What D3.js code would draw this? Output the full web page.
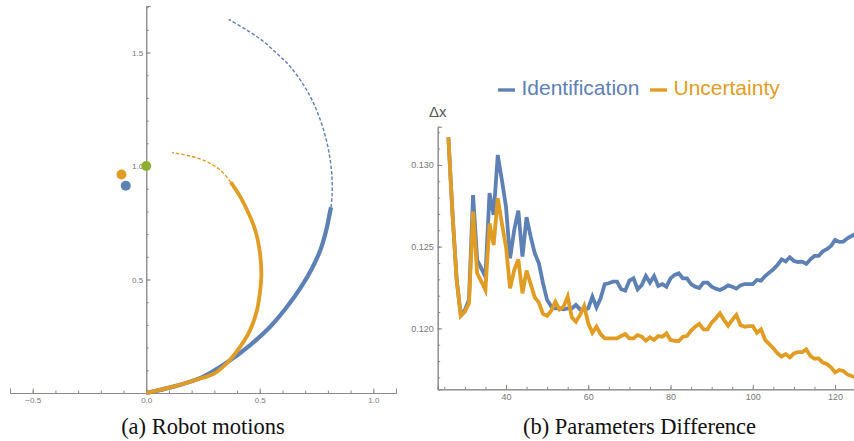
<!DOCTYPE html>
<html>
<head>
<meta charset="utf-8">
<title>robot motions / parameters difference</title>
<style>
  body { margin: 0; background: #fff; }
  svg { display: block; }
</style>
</head>
<body>
<main></main>
<script src="https://cdn.jsdelivr.net/npm/d3@7"></script>
<script>
// ---- data: (a) robot motions [x, y]
var blueSolid = [[0, 0], [0.12, 0.028], [0.245, 0.069], [0.355, 0.134], [0.458, 0.211],
  [0.546, 0.292], [0.62, 0.38], [0.678, 0.461], [0.73, 0.549], [0.767, 0.63],
  [0.793, 0.718], [0.808, 0.791], [0.814, 0.818]];
var blueDashed = [[0.814, 0.818], [0.818, 0.865], [0.818, 0.953], [0.803, 1.07], [0.774, 1.181],
  [0.737, 1.276], [0.693, 1.357], [0.634, 1.438], [0.583, 1.489], [0.517, 1.548],
  [0.443, 1.599], [0.363, 1.646]];
var orangeSolid = [[0, 0], [0.12, 0.028], [0.245, 0.066], [0.297, 0.084], [0.355, 0.131],
  [0.414, 0.204], [0.458, 0.278], [0.488, 0.366], [0.502, 0.454], [0.507, 0.53],
  [0.499, 0.63], [0.48, 0.718], [0.451, 0.791], [0.414, 0.865], [0.372, 0.929]];
var orangeDashed = [[0.372, 0.929], [0.326, 0.982], [0.267, 1.019], [0.194, 1.044], [0.113, 1.059]];
var dots = [[-0.09, 0.913, "#5E81B5"], [-0.109, 0.963, "#E19C24"], [0.0, 1.0, "#8FB032"]];
var xTicksA = [-0.5, 0, 0.5, 1.0];
var yTicksA = [0.5, 1.0, 1.5];

// ---- data: (b) parameters difference
var steps = d3.range(26, 126);
var identification = [0.13169, 0.1270, 0.1230, 0.12082, 0.12112, 0.12173, 0.12816, 0.12418, 0.12367, 0.12316,
  0.12827, 0.12694, 0.13061, 0.12908, 0.12745, 0.12429, 0.12602, 0.12720, 0.12439, 0.12680,
  0.12561, 0.12459, 0.12398, 0.12276, 0.12173, 0.12133, 0.12122, 0.12122, 0.12116, 0.12122,
  0.12122, 0.12143, 0.12116, 0.12112, 0.12122, 0.12194, 0.12129, 0.12184, 0.12271, 0.12276,
  0.12286, 0.12286, 0.12239, 0.12231, 0.12292, 0.12306, 0.12239, 0.12265, 0.12320, 0.12280,
  0.12320, 0.12259, 0.12271, 0.12255, 0.12306, 0.12327, 0.12337, 0.12306, 0.12306, 0.12271,
  0.12255, 0.12247, 0.12280, 0.12280, 0.12255, 0.12243, 0.12235, 0.12247, 0.12263, 0.12255,
  0.12243, 0.12263, 0.12271, 0.12271, 0.12271, 0.12296, 0.12292, 0.12320, 0.12341, 0.12361,
  0.12388, 0.12422, 0.12410, 0.12435, 0.12412, 0.12406, 0.12408, 0.12394, 0.12422, 0.12443,
  0.12443, 0.12471, 0.12484, 0.12504, 0.12541, 0.12529, 0.12531, 0.12551, 0.12565, 0.12578];
var uncertainty = [0.13169, 0.1270, 0.1230, 0.12076, 0.12102, 0.12153, 0.12714, 0.12337, 0.12286, 0.12235,
  0.12643, 0.12510, 0.12796, 0.12643, 0.12500, 0.12245, 0.12357, 0.12422, 0.12214, 0.12353,
  0.12271, 0.12190, 0.12157, 0.12088, 0.12076, 0.12108, 0.12163, 0.12116, 0.12133, 0.12194,
  0.12067, 0.12041, 0.12082, 0.12137, 0.12031, 0.11973, 0.12010, 0.11965, 0.11939, 0.11939,
  0.11939, 0.11939, 0.11953, 0.11965, 0.11939, 0.11939, 0.11959, 0.11949, 0.11924, 0.11945,
  0.11929, 0.11953, 0.11949, 0.11969, 0.11929, 0.11924, 0.11922, 0.11949, 0.11953, 0.11986,
  0.12010, 0.12027, 0.11994, 0.11994, 0.12035, 0.12061, 0.12092, 0.12051, 0.12016, 0.12051,
  0.12082, 0.12020, 0.12010, 0.12014, 0.12014, 0.11973, 0.11994, 0.11929, 0.11904, 0.11878,
  0.11847, 0.11827, 0.11843, 0.11822, 0.11847, 0.11855, 0.11855, 0.11871, 0.11831, 0.11814,
  0.11816, 0.11790, 0.11782, 0.11761, 0.11731, 0.11745, 0.11739, 0.11718, 0.11708, 0.11700];
var xTicksB = [40, 60, 80, 100, 120];
var yTicksB = [0.120, 0.125, 0.130];
var seriesNames = ["Identification", "Uncertainty"];

var blue = "#5E81B5", orange = "#E19C24";
var axisColor = "#8a8a8a", labelColor = "#777";

var svg = d3.select("main").append("svg")
  .attr("width", 854)
  .attr("height", 441);

// styling helper for the Mathematica-like axes (ticks inside, grey)
function styleAxis(g) {
  g.select(".domain").attr("stroke", axisColor).attr("stroke-width", 1);
  g.selectAll(".tick line").attr("stroke", axisColor);
  g.selectAll(".tick text").attr("fill", labelColor)
    .style("font-family", "Liberation Sans, Arial, sans-serif");
}

// ================= (a) Robot motions =================
var xa = d3.scaleLinear().domain([-0.6, 1.1]).range([10, 396]);
var ya = d3.scaleLinear().domain([0, 1.705]).range([393, 6]);

var ga = svg.append("g");

// minor ticks
ga.append("g").attr("transform", "translate(0," + ya(0) + ")")
  .call(d3.axisTop(xa).tickValues(d3.range(-6, 12).map(function (d) { return d / 10; }))
    .tickSize(2.5).tickFormat(""))
  .call(styleAxis);
ga.append("g").attr("transform", "translate(0," + ya(0) + ")")
  .call(d3.axisTop(xa).tickValues(xTicksA).tickSize(4.5).tickFormat(""))
  .call(styleAxis);
ga.append("g").attr("transform", "translate(0," + ya(0) + ")")
  .call(d3.axisBottom(xa).tickValues(xTicksA).tickSize(0).tickPadding(4)
    .tickFormat(function (d) { return d3.format(".1f")(d).replace("-", "\u2212"); }))
  .call(styleAxis)
  .call(function (g) { g.select(".domain").remove(); g.selectAll("text").attr("font-size", 8); });

ga.append("g").attr("transform", "translate(" + xa(0) + ",0)")
  .call(d3.axisRight(ya).tickValues(d3.range(1, 18).map(function (d) { return d / 10; }))
    .tickSize(2.5).tickFormat(""))
  .call(styleAxis);
ga.append("g").attr("transform", "translate(" + xa(0) + ",0)")
  .call(d3.axisRight(ya).tickValues(yTicksA).tickSize(4.5).tickFormat(""))
  .call(styleAxis);
ga.append("g").attr("transform", "translate(" + xa(0) + ",0)")
  .call(d3.axisLeft(ya).tickValues(yTicksA).tickSize(0).tickPadding(3)
    .tickFormat(d3.format(".1f")))
  .call(styleAxis)
  .call(function (g) { g.select(".domain").remove(); g.selectAll("text").attr("font-size", 8); });

var lineA = d3.line().x(function (d) { return xa(d[0]); }).y(function (d) { return ya(d[1]); })
  .curve(d3.curveCatmullRom);

ga.append("path").datum(blueDashed).attr("d", lineA)
  .attr("fill", "none").attr("stroke", blue).attr("stroke-width", 1.4)
  .attr("stroke-dasharray", "3.5,2");
ga.append("path").datum(blueSolid).attr("d", lineA)
  .attr("fill", "none").attr("stroke", blue).attr("stroke-width", 4.3);
ga.append("path").datum(orangeDashed).attr("d", lineA)
  .attr("fill", "none").attr("stroke", orange).attr("stroke-width", 1.4)
  .attr("stroke-dasharray", "3.5,2");
ga.append("path").datum(orangeSolid).attr("d", lineA)
  .attr("fill", "none").attr("stroke", orange).attr("stroke-width", 3.8);

ga.selectAll("circle.dot").data(dots).enter().append("circle")
  .attr("class", "dot")
  .attr("cx", function (d) { return xa(d[0]); })
  .attr("cy", function (d) { return ya(d[1]); })
  .attr("r", 5)
  .attr("fill", function (d) { return d[2]; });

// ================= (b) Parameters Difference =================
var xb = d3.scaleLinear().domain([23.4, 124.6]).range([437.7, 854]);
var yb = d3.scaleLinear().domain([0.11627, 0.13234]).range([389.3, 126.7]);

var gb = svg.append("g");

svg.append("clipPath").attr("id", "clipB").append("rect")
  .attr("x", 437.7).attr("y", 100).attr("width", 854 - 437.7).attr("height", 289.3);

gb.append("g").attr("transform", "translate(0," + yb.range()[0] + ")")
  .call(d3.axisTop(xb).tickValues(d3.range(25, 125, 5)).tickSize(2.5).tickFormat(""))
  .call(styleAxis);
gb.append("g").attr("transform", "translate(0," + yb.range()[0] + ")")
  .call(d3.axisTop(xb).tickValues(xTicksB).tickSize(4.5).tickFormat(""))
  .call(styleAxis);
gb.append("g").attr("transform", "translate(0," + yb.range()[0] + ")")
  .call(d3.axisBottom(xb).tickValues(xTicksB).tickSize(0).tickPadding(4))
  .call(styleAxis)
  .call(function (g) { g.select(".domain").remove(); g.selectAll("text").attr("font-size", 9); });

gb.append("g").attr("transform", "translate(" + xb.range()[0] + ",0)")
  .call(d3.axisRight(yb).tickValues(d3.range(117, 133).map(function (d) { return d / 1000; }))
    .tickSize(2.5).tickFormat(""))
  .call(styleAxis);
gb.append("g").attr("transform", "translate(" + xb.range()[0] + ",0)")
  .call(d3.axisRight(yb).tickValues(yTicksB).tickSize(4.5).tickFormat(""))
  .call(styleAxis);
gb.append("g").attr("transform", "translate(" + xb.range()[0] + ",0)")
  .call(d3.axisLeft(yb).tickValues(yTicksB).tickSize(0).tickPadding(4)
    .tickFormat(d3.format(".3f")))
  .call(styleAxis)
  .call(function (g) { g.select(".domain").remove(); g.selectAll("text").attr("font-size", 9); });

var lineB = d3.line().x(function (d) { return xb(d[0]); }).y(function (d) { return yb(d[1]); });

[[identification, blue], [uncertainty, orange]].forEach(function (s) {
  gb.append("path")
    .datum(steps.map(function (t, i) { return [t, s[0][i]]; }))
    .attr("d", lineB)
    .attr("clip-path", "url(#clipB)")
    .attr("fill", "none")
    .attr("stroke", s[1])
    .attr("stroke-width", 3.8)
    .attr("stroke-linejoin", "miter");
});

// y label
gb.append("text").attr("x", 429).attr("y", 117)
  .attr("font-size", 15).attr("fill", "#555")
  .style("font-family", "Liberation Sans, Arial, sans-serif")
  .text("\u0394x");

// legend
var legendX = [498, 650];
seriesNames.forEach(function (name, i) {
  var c = i === 0 ? blue : orange;
  gb.append("line").attr("x1", legendX[i]).attr("x2", legendX[i] + 17)
    .attr("y1", 90).attr("y2", 90).attr("stroke", c).attr("stroke-width", 3.4);
  gb.append("text").attr("x", legendX[i] + 23.5).attr("y", 94.5)
    .attr("font-size", 21).attr("fill", c)
    .style("font-family", "Liberation Sans, Arial, sans-serif")
    .text(name);
});

// captions
var captions = [["(a) Robot motions", 203], ["(b) Parameters Difference", 639.5]];
svg.selectAll("text.caption").data(captions).enter().append("text")
  .attr("class", "caption")
  .attr("x", function (d) { return d[1]; })
  .attr("y", 434)
  .attr("text-anchor", "middle")
  .attr("font-size", 22.5)
  .attr("fill", "#111")
  .style("font-family", "Liberation Serif, Times New Roman, serif")
  .text(function (d) { return d[0]; });
</script>
</body>
</html>
